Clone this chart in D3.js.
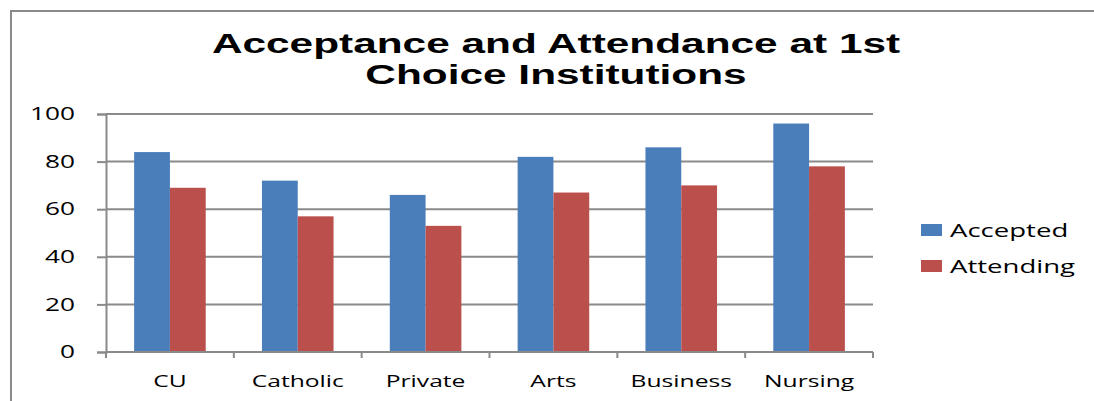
<!DOCTYPE html>
<html>
<head>
<meta charset="utf-8">
<script src="https://cdn.jsdelivr.net/npm/d3@7"></script>
<style>
  html, body { margin: 0; padding: 0; background: #fff; overflow: hidden; }
  svg { display: block; }
</style>
</head>
<body>
<div id="chart"></div>
<script>
// data
const categories = ['CU', 'Catholic', 'Private', 'Arts', 'Business', 'Nursing'];
const seriesNames = ['Accepted', 'Attending'];
const accepted  = [84, 72, 66, 82, 86, 96];
const attending = [69, 57, 53, 67, 70, 78];
const yTicks = [0, 20, 40, 60, 80, 100];
const titleLines = ['Acceptance and Attendance at 1st', 'Choice Institutions'];

const width = 1094, height = 401;
const colors = ['#4A7EBB', '#BA4F4C'];
const grid = '#8a8a8a';
const sx = 1.45;          // the original is stretched sideways
const sans = "'Open Sans', 'Noto Sans', sans-serif";

const margin = { left: 106, right: 221, top: 114, bottom: 49 };

const svg = d3.select('#chart').append('svg')
    .attr('width', width).attr('height', height);

// frame (only top and left edges are visible)
svg.append('path')
    .attr('d', `M11,${height + 5} V11 H${width + 5}`)
    .attr('fill', 'none').attr('stroke', grid).attr('stroke-width', 2);

// title
const title = svg.append('g')
    .attr('transform', 'translate(556,0)');
titleLines.forEach((t, i) => {
  title.append('text')
      .attr('transform', `translate(0,${53 + i * 31}) scale(1.57,1)`)
      .attr('text-anchor', 'middle')
      .attr('font-family', "'Liberation Sans', Arial, sans-serif")
      .attr('font-weight', 'bold')
      .attr('font-size', 27)
      .text(t);
});

const x0 = d3.scaleBand()
    .domain(categories)
    .range([margin.left, width - margin.right])
    .paddingInner(0.44).paddingOuter(0.22);
const x1 = d3.scaleBand()
    .domain(seriesNames)
    .range([0, x0.bandwidth()]);
const y = d3.scaleLinear()
    .domain([0, 100])
    .range([height - margin.bottom, margin.top]);

// gridlines
svg.append('g').selectAll('line')
  .data(yTicks.filter(d => d > 0))
  .join('line')
    .attr('x1', margin.left).attr('x2', width - margin.right)
    .attr('y1', d => y(d)).attr('y2', d => y(d))
    .attr('stroke', grid).attr('stroke-width', 2);

// bars
const rows = categories.map((c, i) => ({ cat: c, values: [accepted[i], attending[i]] }));
svg.append('g').selectAll('g')
  .data(rows)
  .join('g')
    .attr('transform', d => `translate(${x0(d.cat)},0)`)
  .selectAll('rect')
  .data(d => d.values.map((v, j) => ({ key: seriesNames[j], value: v, j })))
  .join('rect')
    .attr('x', d => x1(d.key))
    .attr('width', x1.bandwidth())
    .attr('y', d => y(d.value))
    .attr('height', d => y(0) - y(d.value))
    .attr('fill', d => colors[d.j]);

// y axis
const yAxis = svg.append('g')
    .attr('transform', `translate(${margin.left},0)`)
    .call(d3.axisLeft(y).tickValues(yTicks).tickSize(9).tickPadding(0).tickFormat(d3.format('d')));
yAxis.select('.domain').attr('stroke', grid).attr('stroke-width', 2);
yAxis.selectAll('.tick line').attr('stroke', grid).attr('stroke-width', 2);
yAxis.selectAll('.tick text')
    .attr('x', null)
    .attr('transform', `translate(-31,0) scale(1.5,1)`)
    .attr('font-family', sans).attr('font-size', 17.5).attr('fill', '#000');

// x axis with ticks between categories
const xAxisG = svg.append('g')
    .attr('transform', `translate(0,${y(0)})`);
xAxisG.append('line')
    .attr('x1', margin.left).attr('x2', width - margin.right)
    .attr('stroke', grid).attr('stroke-width', 2);
const bounds = categories.map(c => x0(c) - x0.step() * x0.paddingInner() / 2)
    .concat([width - margin.right]);
xAxisG.selectAll('line.tk')
  .data(bounds)
  .join('line')
    .attr('class', 'tk')
    .attr('x1', d => d).attr('x2', d => d)
    .attr('y1', 0).attr('y2', 6)
    .attr('stroke', grid).attr('stroke-width', 2);
xAxisG.selectAll('text')
  .data(categories)
  .join('text')
    .attr('transform', d => `translate(${x0(d) + x0.bandwidth() / 2},35) scale(${sx},1)`)
    .attr('text-anchor', 'middle')
    .attr('font-family', sans).attr('font-size', 17)
    .text(d => d);

// legend
const legend = svg.append('g')
    .attr('transform', 'translate(921,224)');
seriesNames.forEach((name, i) => {
  const g = legend.append('g').attr('transform', `translate(0,${i * 36})`);
  g.append('rect')
      .attr('width', 21).attr('height', 12)
      .attr('fill', colors[i]);
  g.append('text')
      .attr('transform', `translate(29,13) scale(${sx},1)`)
      .attr('font-family', sans).attr('font-size', 19)
      .text(name);
});
</script>
</body>
</html>
